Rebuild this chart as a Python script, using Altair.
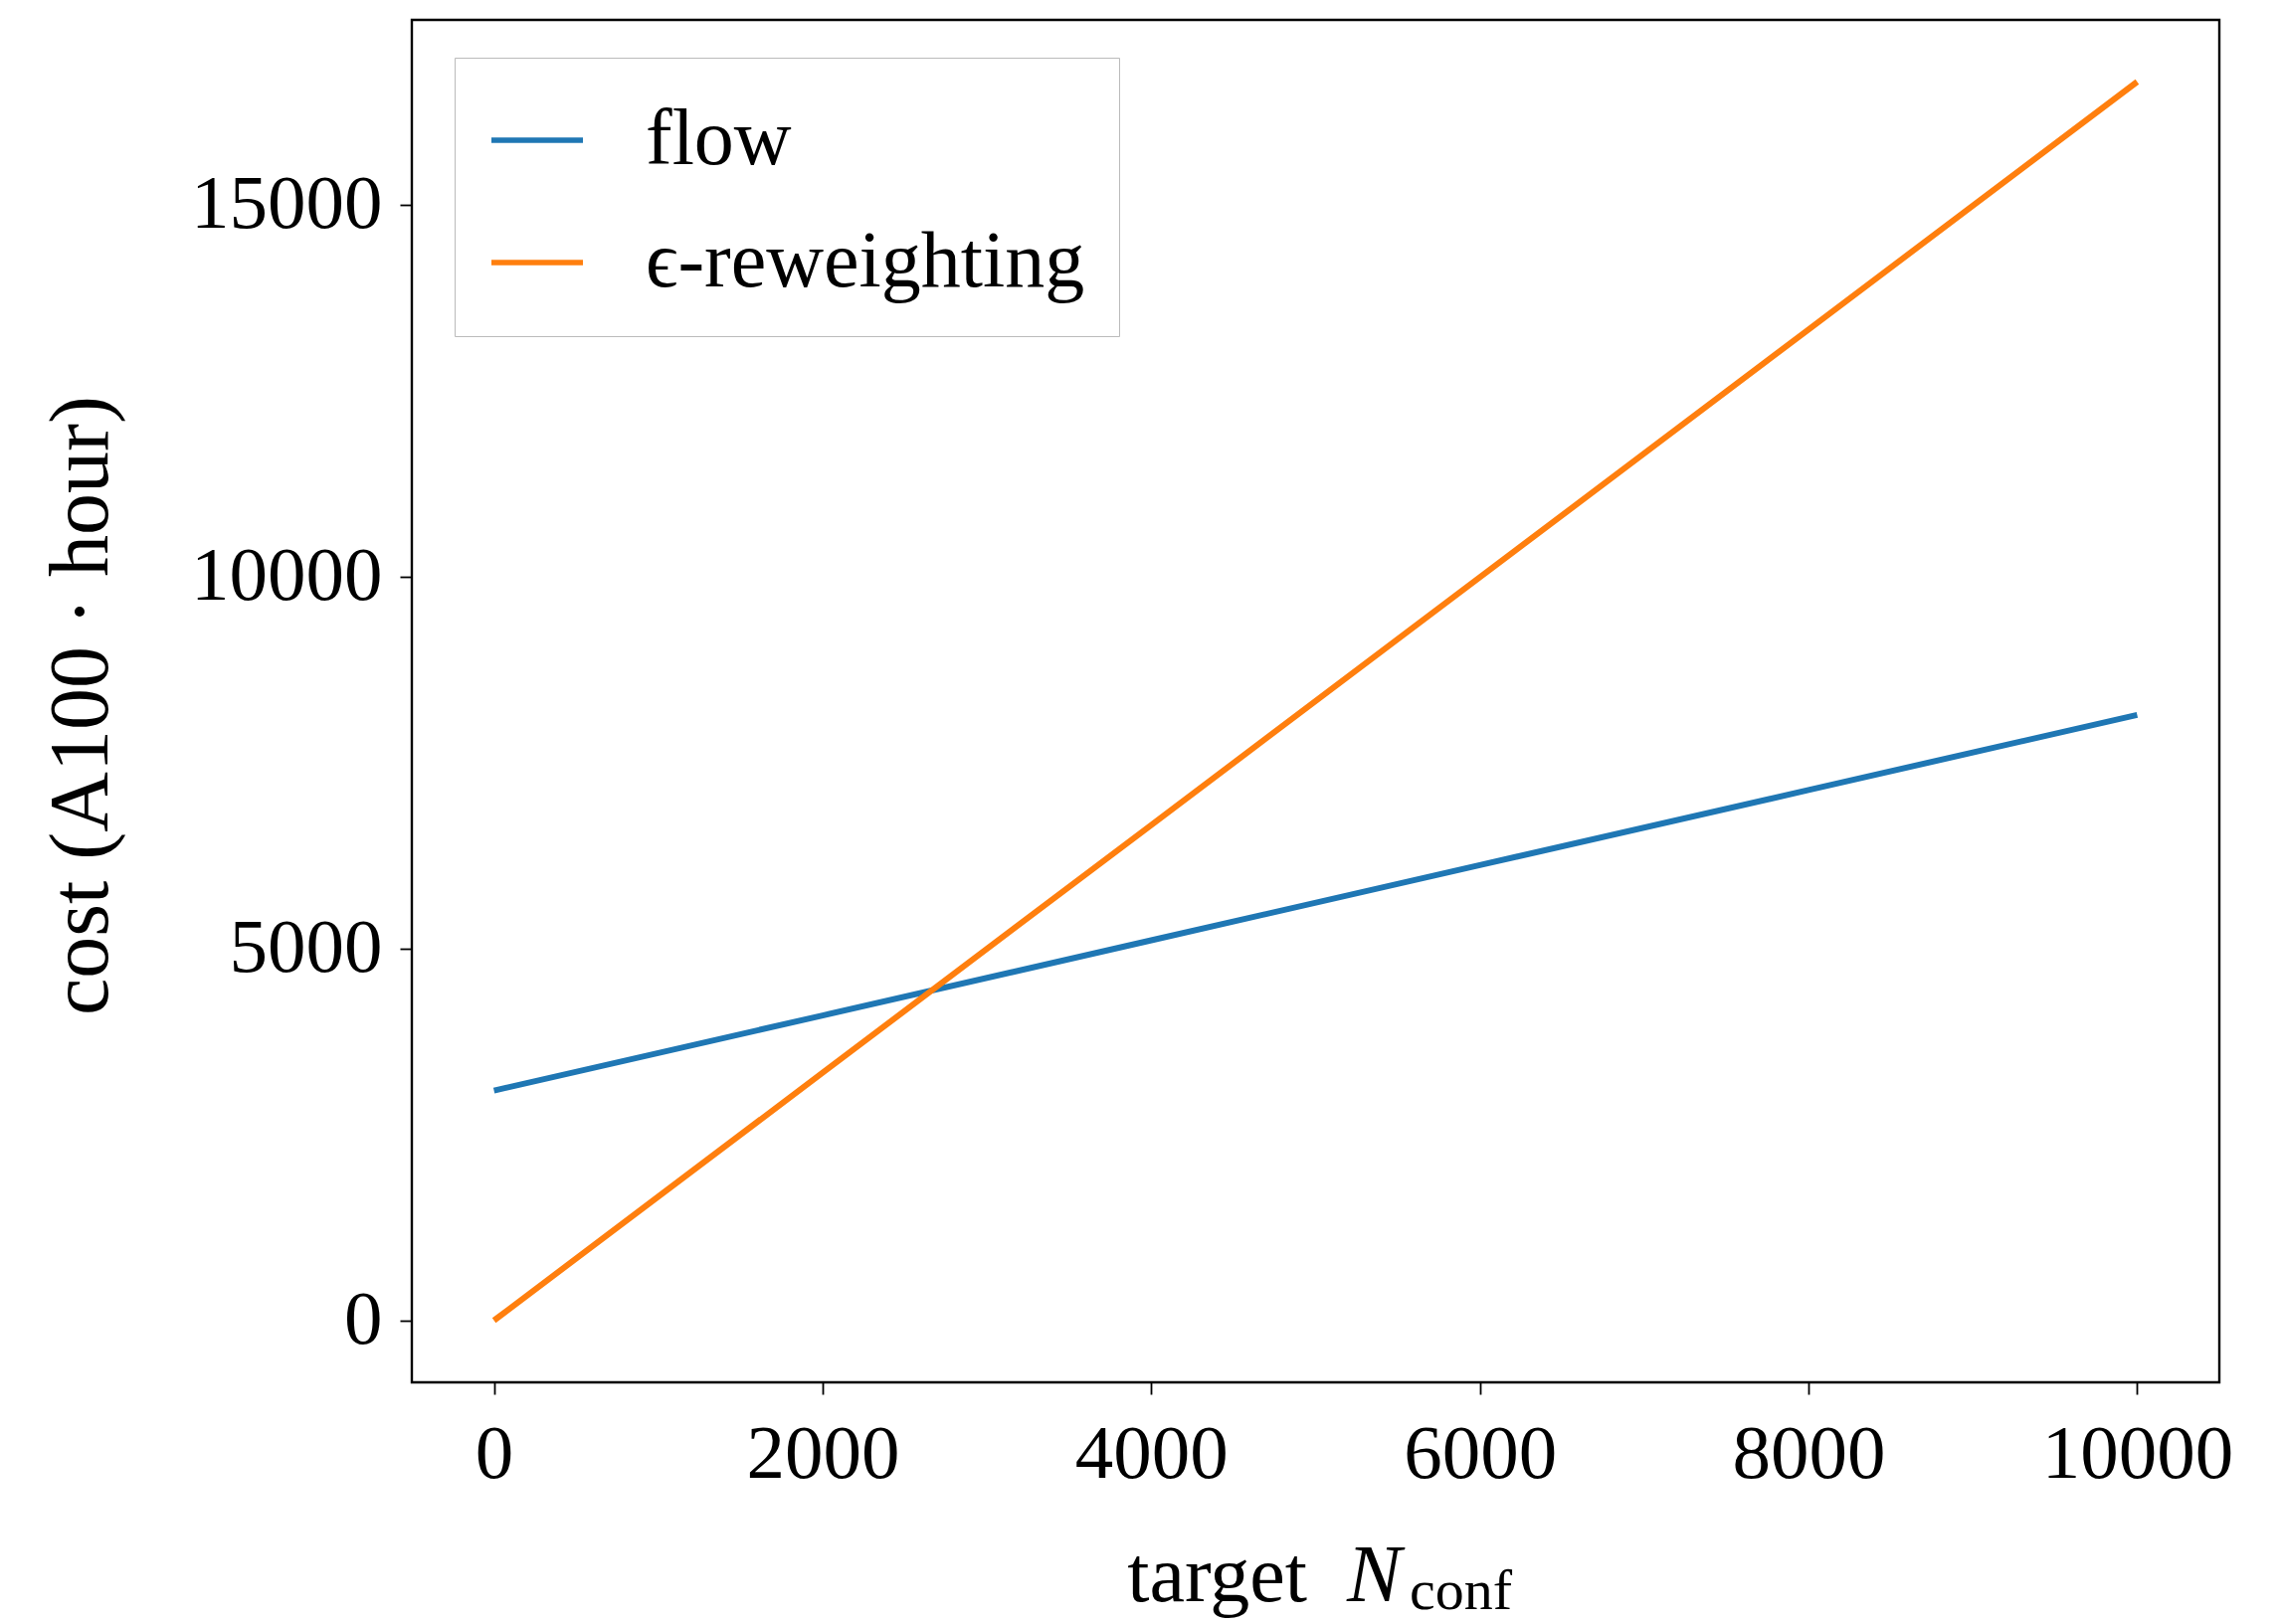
import altair as alt
import pandas as pd

# values
target_n = [0, 2000, 4000, 6000, 8000, 10000]
flow_cost = [3090, 4100, 5110, 6120, 7130, 8140]
reweight_cost = [0, 3330, 6660, 9990, 13320, 16650]
series_names = ["flow", "\u03f5-reweighting"]
series_colors = ["#1f77b4", "#ff7f0e"]
x_ticks = [0, 2000, 4000, 6000, 8000, 10000]
y_ticks = [0, 5000, 10000, 15000]

rows = []
for n, c in zip(target_n, flow_cost):
    rows.append({"N": n, "cost": c, "method": series_names[0]})
for n, c in zip(target_n, reweight_cost):
    rows.append({"N": n, "cost": c, "method": series_names[1]})
df = pd.DataFrame(rows)

FONT = "Liberation Serif"
FS = 77
W, H = 1817, 1370

lines = alt.Chart(df).mark_line(strokeWidth=6).encode(
    x=alt.X("N:Q",
            scale=alt.Scale(domain=[-500, 10500], nice=False, zero=False),
            axis=alt.Axis(values=x_ticks, format="d", title=None, grid=False,
                          domain=False, ticks=True, tickSize=12, tickWidth=1.8,
                          tickColor="black", labelFont=FONT, labelFontSize=FS,
                          labelColor="black", labelPadding=22, labelFlush=False,
                          labelLimit=1000, labelOverlap=False)),
    y=alt.Y("cost:Q",
            scale=alt.Scale(domain=[-832, 17482], nice=False, zero=False),
            axis=alt.Axis(values=y_ticks, format="d", grid=False, domain=False,
                          tickSize=12, tickWidth=1.8, tickColor="black",
                          labelFont=FONT, labelFontSize=FS, labelColor="black",
                          labelPadding=18, labelFlush=False, labelLimit=1000,
                          labelOverlap=False,
                          title="cost (A100 \u00b7 hour)", titleFont=FONT,
                          titleFontSize=84, titleFontWeight="normal",
                          titleColor="black", titleAngle=270,
                          titleAlign="center", titleBaseline="alphabetic",
                          titleX=-307, titleY=H / 2 + 4, titleLimit=2000)),
    color=alt.Color("method:N",
                    scale=alt.Scale(domain=series_names, range=series_colors),
                    sort=series_names,
                    legend=alt.Legend(title=None, orient="none", legendX=43,
                                      legendY=38, symbolType="stroke",
                                      symbolSize=8464, symbolStrokeWidth=5.5,
                                      labelFont=FONT, labelFontSize=80,
                                      labelColor="black", labelOffset=60,
                                      padding=34, rowPadding=34,
                                      strokeColor="#bbbbbb",
                                      fillColor="white",
                                      cornerRadius=0, labelLimit=1000)),
)

t_target = alt.Chart(pd.DataFrame({"t": ["target"]})).mark_text(
    font=FONT, fontSize=80, align="right", baseline="alphabetic", color="black"
).encode(x=alt.value(900), y=alt.value(1590), text="t:N")

t_n = alt.Chart(pd.DataFrame({"t": ["N"]})).mark_text(
    font=FONT, fontSize=82, fontStyle="italic", align="left",
    baseline="alphabetic", color="black"
).encode(x=alt.value(940), y=alt.value(1590), text="t:N")

t_conf = alt.Chart(pd.DataFrame({"t": ["conf"]})).mark_text(
    font=FONT, fontSize=58, align="left", baseline="alphabetic", color="black"
).encode(x=alt.value(1003), y=alt.value(1598), text="t:N")

chart = alt.layer(lines, t_target, t_n, t_conf).properties(
    width=W, height=H,
    padding={"left": 414, "top": 20, "right": 64, "bottom": 243},
    autosize=alt.AutoSizeParams(type="none"),
).configure(
    background="white",
    view=alt.ViewConfig(stroke="black", strokeWidth=2.4),
)

chart.save("out.html", embed_options={"renderer": "svg", "actions": False})
